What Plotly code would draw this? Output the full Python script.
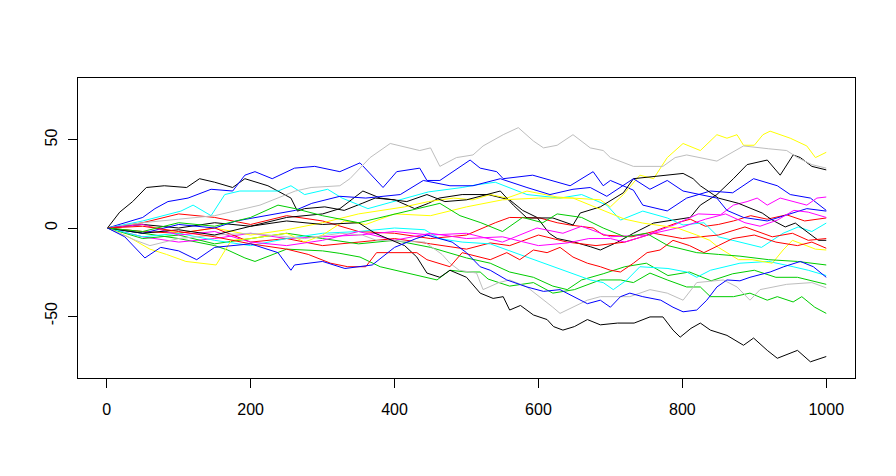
import plotly.graph_objects as go

# ---- data (step, value) for each random-walk path ----
black1_x = [1, 18, 36, 55, 80, 111, 129, 150, 175, 192, 224, 256, 265, 275, 303, 330, 355, 373, 400, 428, 447, 462, 494, 530, 560, 578, 598, 615, 626, 650, 672, 686, 710, 732, 760, 790, 811, 825, 848, 871, 890, 918, 936, 954, 964, 980, 1000]
black1_y = [0, 9, 15, 23, 24, 23, 28, 26, 23, 28, 24, 17, 9.6, 11, 12, 10, 14, 17, 16, 11, 14, 17, 19, 19, 16, 10, 6, -3, -6, -8, -10.6, -12.5, -8, -3, 2.8, 4.5, 6, 13, 19, 28, 36, 38.6, 30, 41.5, 40, 35, 33]

red1_x = [1, 50, 100, 150, 200, 250, 300, 350, 400, 450, 500, 540, 560, 602, 626, 644, 676, 690, 730, 760, 793, 811, 832, 850, 871, 895, 918, 945, 970, 1000]
red1_y = [0, 3, 8, 6, 2, 7, 4, -2, -3, -6, -4, 3, 6, 5.7, 3, 1.7, 0, -4, -5, -2, 3, 5, 1, 2, 4, 7, 5, 7.5, 4, 5.7]

green1_x = [1, 50, 100, 150, 168, 192, 206, 250, 300, 324, 352, 380, 420, 459, 477, 500, 519, 530, 560, 593, 620, 650, 686, 714, 732, 755, 779, 806, 825, 839, 871, 894, 918, 932, 954, 966, 984, 1000]
green1_y = [0, -3, -6, -10, -12.5, -17, -19, -12, -13, -14.4, -16.5, -22, -25.6, -29.5, -24, -25, -25, -29, -33, -31, -37, -35, -29.5, -29.5, -31, -25.6, -29.5, -33.5, -33.5, -39, -39, -37, -41, -39, -42, -39, -45, -48.5]

blue1_x = [1, 50, 67, 85, 113, 145, 175, 192, 206, 230, 261, 289, 324, 352, 384, 403, 435, 445, 463, 505, 519, 542, 551, 592, 644, 676, 690, 700, 732, 745, 779, 806, 839, 870, 899, 932, 950, 978, 1000]
blue1_y = [0, 6, 11, 15, 17, 22, 21, 30, 32, 28, 34, 35, 32, 37, 23, 32, 34, 27, 27, 38.6, 34, 32, 28, 30, 24, 32, 24, 27, 21.5, 13, 9.7, 17, 21, 20, 28, 24, 19, 17, 10]

cyan1_x = [1, 50, 103, 120, 145, 164, 185, 200, 238, 256, 275, 307, 327, 363, 414, 447, 494, 512, 540, 584, 630, 660, 695, 714, 745, 779, 801, 830, 850, 880, 910, 940, 961, 980, 1000]
cyan1_y = [0, 4, 9.6, 13, 7, 19, 21, 21, 21, 24, 19, 22, 17, 11, 17, 20.5, 23, 24.4, 26, 19, 17, 19, 13, 4.5, 9.6, 5.7, 1.7, 3, -5, -8, -11, -3, 0.6, -2, 2.8]

magenta1_x = [1, 50, 100, 150, 200, 250, 300, 350, 400, 450, 500, 550, 598, 634, 660, 700, 750, 790, 822, 853, 871, 890, 904, 918, 936, 955, 973, 987, 1000]
magenta1_y = [0, -5, -8, -6, -3, -6, -5, -4, -2, -4, -3, -8, 0, -3, 1, -5, -4, 2, 8, 7.5, 13, 15, 17, 13, 17, 15, 13, 17, 17.6]

yellow1_x = [1, 50, 100, 150, 200, 250, 300, 350, 414, 447, 482, 509, 533, 556, 584, 626, 648, 686, 700, 718, 741, 760, 779, 801, 825, 848, 862, 876, 885, 900, 912, 922, 950, 973, 985, 1000]
yellow1_y = [0, 2, -3, 0, -4, -1, 3, 8, 12, 15, 17, 16, 19, 17, 21, 17.6, 17, 16, 12, 19, 30, 28, 40, 48, 44, 53, 51, 53, 47, 47, 53, 55, 51, 46.6, 40, 43]

gray1_x = [1, 50, 100, 150, 213, 238, 262, 284, 324, 338, 366, 394, 435, 450, 463, 486, 509, 523, 551, 572, 593, 607, 626, 648, 672, 690, 700, 732, 773, 790, 806, 848, 885, 920, 945, 960, 980, 1000]
gray1_y = [0, 3, 5, 7, 13, 17, 21, 23, 24, 28, 40, 48, 44, 45.5, 35, 40, 41.5, 46.6, 53, 57, 49.4, 45.5, 47, 53, 45.5, 44, 40, 35, 35, 40, 41.5, 38, 46.6, 45, 44, 40, 36, 34]

black2_x = [1, 50, 100, 150, 200, 250, 300, 324, 356, 380, 417, 445, 470, 500, 547, 565, 584, 620, 648, 658, 686, 718, 732, 779, 801, 815, 825, 843, 850, 878, 911, 925, 943, 957, 970, 989, 1000]
black2_y = [0, 2, 0, 3, 1, 6, 8, 11, 21, 17, 15, 19, 15, 16, 21, 13, 5.7, 5.7, 1.7, 8.5, 12, 20, 28, 30, 31, 28, 24, 19, 17, 14, 8.5, 4.5, 0.6, 2.8, -1, -7, -7]

red2_x = [1, 50, 100, 150, 200, 250, 300, 350, 400, 450, 500, 533, 560, 600, 640, 680, 720, 760, 800, 850, 887, 925, 953, 975, 1000]
red2_y = [0, -2, -3, 0, -8, -6, -10, -8, -6, -9, -12, -8.5, -10, -4, -8, -10, -8, -3, -6, -4, 0.6, -5, -3, -7, -6]

green2_x = [1, 50, 100, 150, 200, 250, 300, 350, 400, 450, 500, 533, 560, 593, 620, 640, 660, 690, 720, 750, 780, 810, 840, 870, 900, 930, 960, 1000]
green2_y = [0, -6, -4, -9, -6, -3, -6, -9, -7, -11, -17, -20, -25, -28, -33, -35, -29.5, -26, -22, -20, -27, -25, -30, -26, -24, -28, -28, -32]

blue2_x = [1, 50, 100, 150, 180, 222, 262, 285, 324, 360, 408, 440, 477, 509, 547, 584, 616, 648, 672, 695, 732, 755, 779, 801, 848, 862, 885, 918, 945, 973, 1000]
blue2_y = [0, -3, 2, 0, 4, 7, 10, 14, 18, 17, 19, 27, 24, 24, 28, 23, 19, 22, 23, 18, 28, 22, 27, 21, 17, 10, 6, 4, 7.5, 11, 9.6]

cyan2_x = [1, 50, 100, 150, 200, 250, 300, 350, 400, 442, 462, 494, 533, 560, 593, 620, 640, 672, 690, 704, 723, 741, 780, 806, 820, 839, 880, 920, 954, 975, 1000]
cyan2_y = [0, -5, -3, -7, -10, -6, -3, -2, 0, -1, -6, -8, -9, -13, -18, -22, -25, -29.5, -31, -35, -29.5, -22, -23, -25, -28, -24, -20, -19, -22, -24, -27]

magenta2_x = [1, 50, 100, 150, 200, 250, 300, 350, 400, 450, 500, 550, 600, 640, 670, 700, 720, 760, 800, 832, 860, 887, 908, 932, 955, 975, 1000]
magenta2_y = [0, 2, -4, -2, -8, -10, -7, -2, -7, -3, -6, -5, -10, -8.5, -6, -6, -8, -3, 0.6, 5, 8, 3, 1, 4.5, 10, 9, 6]

yellow2_x = [1, 30, 60, 83, 110, 152, 173, 200, 250, 275, 300, 330, 360, 400, 450, 500, 550, 600, 648, 672, 695, 720, 745, 793, 820, 838, 850, 878, 897, 925, 940, 953, 966, 985, 1000]
yellow2_y = [0, -5, -12, -15, -19, -21, -7, -6, -3, -8, -4, 4, 2, 8, 7, 12, 16, 17, 17, 13, 9.6, 5, 2.8, 0, -4, -7, -11, -18, -18, -20, -12.5, -7, -9, -12, -12.5]

gray2_x = [1, 40, 60, 80, 100, 150, 200, 275, 324, 355, 375, 442, 466, 477, 490, 514, 523, 545, 560, 584, 602, 620, 630, 648, 668, 686, 727, 755, 779, 801, 820, 857, 876, 894, 908, 945, 980, 1000]
gray2_y = [0, -7, -10, -8, -6, -4, -3, -6, -3, -4, -7, -8, -15, -20, -24, -25.6, -35, -31, -29.5, -33.5, -39, -45, -48.5, -45, -41, -39, -39, -35, -37, -41, -31, -29.5, -33.5, -41, -35, -32, -31, -34]

black3_x = [1, 50, 100, 150, 200, 250, 300, 350, 373, 414, 431, 445, 463, 477, 500, 519, 537, 551, 560, 575, 593, 612, 621, 634, 650, 668, 686, 710, 733, 755, 773, 787, 797, 812, 825, 839, 862, 885, 899, 918, 932, 960, 978, 1000]
black3_y = [0, -3, -1, -4, 1, 4, 2, 3, -3, -10, -16.5, -25.6, -28, -24, -28, -37, -40, -39, -46.6, -44, -49.4, -52, -56, -58, -56, -52, -55, -54, -54, -50.5, -50.5, -58, -62, -57, -54, -58, -61, -66.6, -62.5, -69.5, -74, -69.5, -76, -73]

red3_x = [1, 50, 100, 150, 200, 250, 280, 311, 335, 360, 375, 431, 445, 477, 494, 514, 533, 556, 574, 593, 612, 630, 648, 668, 686, 700, 714, 732, 751, 769, 787, 810, 830, 850, 870, 900, 930, 960, 980, 1000]
red3_y = [0, 1, -2, -5, -9, -12, -15, -20, -22, -22, -14, -14, -18, -22, -14, -16, -18, -14, -18, -12.5, -14, -11, -16.5, -20, -22, -24, -25, -20, -14, -12.5, -7, -10, -14, -10, -6, -4, -8, -10, -8, -11.5]

green3_x = [1, 50, 100, 150, 200, 238, 262, 300, 350, 400, 463, 491, 520, 550, 578, 606, 626, 660, 690, 720, 750, 780, 820, 850, 880, 920, 960, 1000]
green3_y = [0, -2, 3, 1, 6, 13, 11, 7, 3, 8, 14, 7, 3, -2, 6, 3, 8, 6, 0, -5, -3, -10, -14, -15, -16, -18, -19, -21]

blue3_x = [1, 25, 53, 75, 100, 125, 150, 175, 200, 238, 256, 261, 300, 331, 369, 400, 430, 445, 480, 500, 519, 533, 556, 584, 607, 630, 648, 668, 686, 700, 714, 727, 745, 770, 787, 801, 820, 834, 848, 862, 880, 894, 922, 941, 964, 982, 1000]
blue3_y = [0, -5, -17, -11, -13, -18, -11, -10, -9, -14, -24, -21, -19, -23, -21, -11, -6, -4, -8, -14, -22, -24, -29.5, -33.5, -36, -35, -39, -43, -41, -45, -39, -37, -39, -41, -45, -47.6, -46.6, -41, -33.5, -29.5, -30, -28, -25, -22, -19, -22, -28]

x_ticks = [0, 200, 400, 600, 800, 1000]
y_ticks = [-50, 0, 50]

# R default palette, cycled over the 20 columns
series = [
    (black1_x, black1_y, "#000000"), (red1_x, red1_y, "#FF0000"),
    (green1_x, green1_y, "#00CD00"), (blue1_x, blue1_y, "#0000FF"),
    (cyan1_x, cyan1_y, "#00FFFF"), (magenta1_x, magenta1_y, "#FF00FF"),
    (yellow1_x, yellow1_y, "#FFFF00"), (gray1_x, gray1_y, "#BEBEBE"),
    (black2_x, black2_y, "#000000"), (red2_x, red2_y, "#FF0000"),
    (green2_x, green2_y, "#00CD00"), (blue2_x, blue2_y, "#0000FF"),
    (cyan2_x, cyan2_y, "#00FFFF"), (magenta2_x, magenta2_y, "#FF00FF"),
    (yellow2_x, yellow2_y, "#FFFF00"), (gray2_x, gray2_y, "#BEBEBE"),
    (black3_x, black3_y, "#000000"), (red3_x, red3_y, "#FF0000"),
    (green3_x, green3_y, "#00CD00"), (blue3_x, blue3_y, "#0000FF"),
]

fig = go.Figure()
for xs, ys, col in series:
    fig.add_trace(go.Scatter(x=xs, y=ys, mode="lines",
                             line=dict(color=col, width=1),
                             hoverinfo="skip", showlegend=False))

font = dict(family="Liberation Sans, Arial, sans-serif", size=16, color="#000000")
# the page body adds an 8px offset, so the figure is 8px smaller and margins shifted
fig.update_layout(
    width=888, height=468,
    margin=dict(l=70, r=41, t=70, b=98),
    paper_bgcolor="white", plot_bgcolor="white",
    font=font,
    xaxis=dict(range=[-39.96, 1039.96], tickvals=x_ticks, ticktext=[str(v) for v in x_ticks],
               showgrid=False, zeroline=False, showline=True, mirror=True,
               linecolor="black", linewidth=1, ticks="outside", ticklen=9,
               tickcolor="black", tickwidth=1, ticklabelstandoff=8),
    yaxis=dict(range=[-85.2, 85.2], tickvals=y_ticks, ticktext=[str(v) for v in y_ticks],
               showgrid=False, zeroline=False, showline=True, mirror=True,
               linecolor="black", linewidth=1, ticks="outside", ticklen=9,
               tickcolor="black", tickwidth=1, tickangle=-90, ticklabelstandoff=5),
)

fig.write_html("out.html")
